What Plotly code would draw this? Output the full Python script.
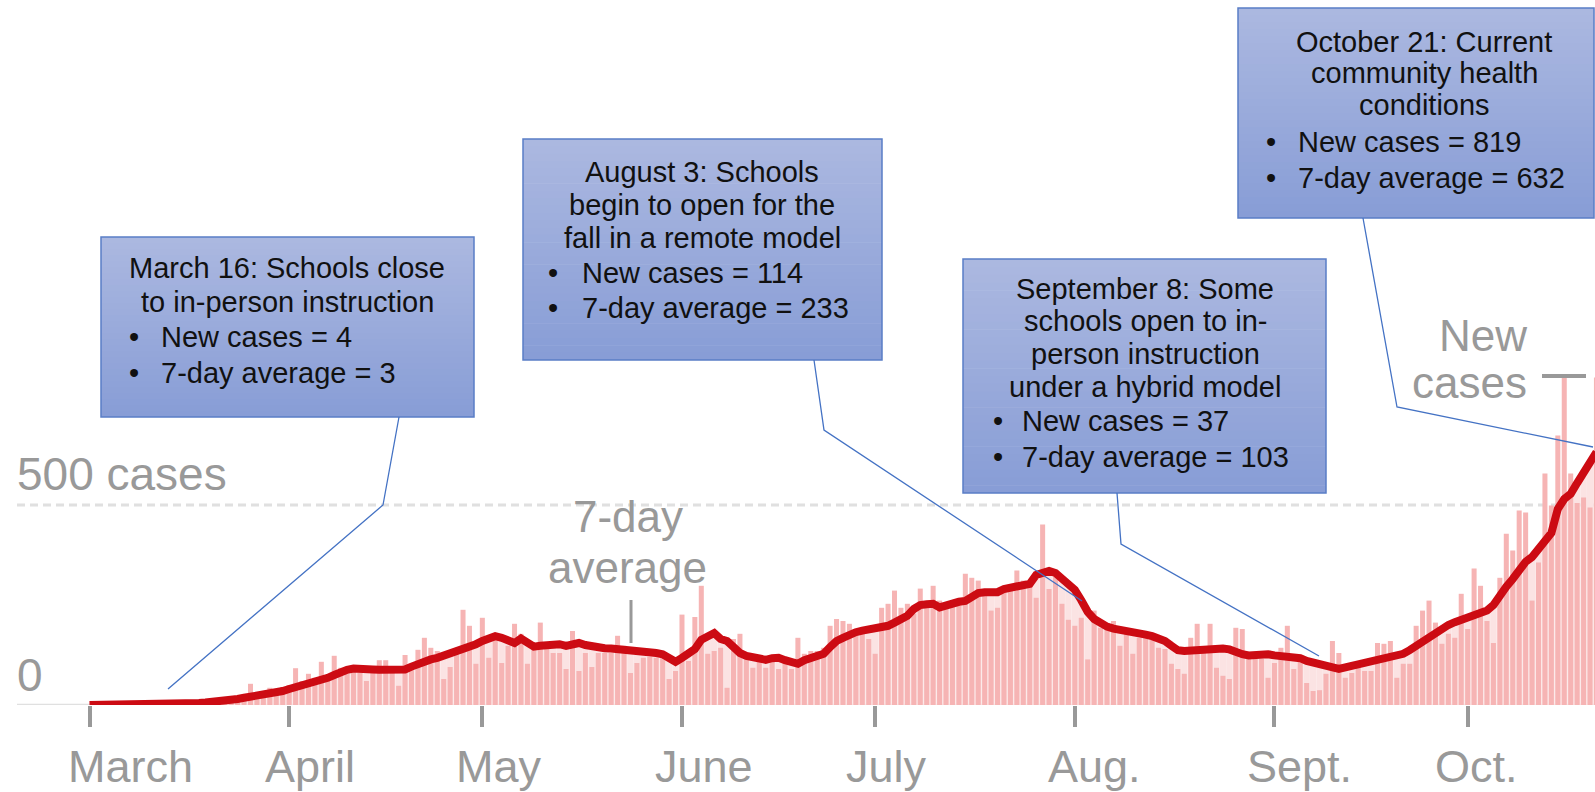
"""Daily new cases with school-reopening callouts (NYT style bars + 7-day line)."""
import pandas as pd
import plotly.graph_objects as go

W, H = 1595, 792
PLOT_H = 705          # pixel row of the zero line
PX_PER_DAY = 6.44
PX_PER_CASE = 0.40
FIRST_DAY_X = 89.5    # pixel column of March 1

BAR_COLOR = "#f6b4b4"
FILL_COLOR = "#fbe3e3"
LINE_COLOR = "#cc0b13"
GRAY = "#999999"
GRID = "#e0e0e0"
CALLOUT = "#4472c4"
BOX_TOP = (171, 184, 224)
BOX_BOTTOM = (136, 157, 214)
BOX_EDGE = "#5a7ec6"
FONT = "Liberation Sans, Arial, sans-serif"

START_DATE = "2020-03-01"

NEW_CASES = [
    0, 0, 0, 0, 0, 0, 0, 0, 0, 0,
    1, 0, 2, 1, 3, 4, 5, 4, 8, 10,
    12, 9, 15, 18, 22,
    53, 27, 30, 43, 35, 45, 50,
    92, 60, 78, 68, 108, 68, 123, 93, 78,
    93, 98, 60, 95, 112, 112, 95, 48, 125, 90,
    138, 168, 143, 135, 65, 95, 140,
    238, 198, 103, 218, 118, 165, 105, 148, 203,
    178, 103, 140, 206, 148, 130, 130, 90, 185, 85,
    130, 95, 130, 130, 130, 173, 148, 80, 105, 118, 120, 118, 123, 65, 85,
    226, 110, 220, 298, 128, 135, 143, 43, 165, 178,
    123, 93, 115, 93, 110, 90, 110, 90, 168, 128,
    135, 135, 143, 198, 215, 210, 203, 178, 178, 165,
    128, 243, 253, 286, 243, 253, 228, 291, 256, 298,
    261, 256, 248, 253, 328, 318, 311, 278, 236, 243,
    293, 298, 336, 311, 303, 268, 451,
    290, 328, 253, 213, 198, 218, 114,
    236, 193, 190, 210, 148, 185, 128, 168, 180, 168,
    143, 140, 103, 90, 78, 168, 203, 143, 203, 93,
    73, 65, 193, 190, 128, 115, 115, 68, 105, 143,
    198, 90, 118, 55, 35, 37, 78, 160, 130, 68,
    80, 93, 85, 85, 155, 153, 160, 68, 103, 103,
    198, 236, 261, 206, 153, 178, 168, 278, 190, 341,
    298, 210, 155, 318, 428, 386, 486, 481, 261, 356,
    579, 499, 674, 822, 579, 505, 519, 494, 819,
]

AVG_7DAY = [
    0, 0, 0, 0, 0, 0, 0, 0, 0, 0, 1, 1, 1, 2,
    2, 3, 4, 5, 6, 7, 9, 10, 12, 15, 18, 20, 24, 27, 29, 32, 35,
    40, 44, 48, 52, 58, 63, 68, 75, 84, 88,
    91, 92, 90, 89, 88, 88, 87, 88, 89, 96,
    103, 110, 114, 118, 123, 127, 133, 138, 143, 152,
    160, 167, 172, 168, 160, 155, 166, 158, 146, 148,
    151, 153, 152, 148, 151, 155, 150, 146, 143, 142,
    141, 140, 140, 138, 135, 134, 132, 130, 127, 118,
    108,
    118, 130, 140, 163, 172, 180, 165, 160, 145, 130,
    123, 118, 115, 113, 117, 118, 112, 106, 103, 112,
    118, 122, 128, 145, 160, 168, 176, 182, 186, 188,
    192, 196, 198, 206, 214, 223, 240, 250, 252, 253,
    244, 250, 255, 258, 260, 270, 280, 282, 281, 282,
    290, 292, 295, 298, 303, 325, 332, 335, 330, 318,
    300,
    288, 262, 233, 215, 203, 196, 191, 188, 188, 187,
    183, 176, 172, 168, 160, 148, 137, 135, 136, 140,
    142, 141, 140, 141, 139, 132, 127, 124, 125, 128,
    127,
    124, 122, 121, 120, 117, 110, 105, 103, 95, 91,
    90, 94, 98, 102, 107, 110, 112, 115, 118, 123,
    128, 137, 148, 160, 170, 181, 192, 200, 207, 212,
    220, 226, 230, 236, 250, 276, 296, 315, 340, 358,
    370, 394, 410, 430, 490, 515, 528, 555, 580, 610,
    632,
]

TICK_DATES = ["2020-03-01", "2020-04-01", "2020-05-01", "2020-06-01",
              "2020-07-01", "2020-08-01", "2020-09-01", "2020-10-01"]
TICK_LABELS = ["March", "April", "May", "June", "July", "Aug.", "Sept.", "Oct."]
# the month names sit a little right of their ticks in the original
TICK_LABEL_X = [130, 310, 499, 704, 886, 1094, 1299, 1476]

BOX_HEADINGS = [
    ["March 16: Schools close", "to in-person instruction"],
    ["August 3: Schools", "begin to open for the", "fall in a remote model"],
    ["September 8: Some", "schools open to in-", "person instruction", "under a hybrid model"],
    ["October 21: Current", "community health", "conditions"],
]
BOX_BULLETS = [
    ["New cases = 4", "7-day average = 3"],
    ["New cases = 114", "7-day average = 233"],
    ["New cases = 37", "7-day average = 103"],
    ["New cases = 819", "7-day average = 632"],
]

# callout box geometry, in pixels
BOX_RECTS = [(101, 237, 474, 417), (523, 139, 882, 360),
             (963, 259, 1326, 493), (1238, 8, 1594, 218)]
BOX_LINE_Y = [[268, 302, 337, 373], [172, 205, 238, 273, 308],
              [289, 321, 354, 387, 421, 457], [42, 73, 105, 142, 178]]
BOX_HEAD_X = [287, 702, 1145, 1424]
BOX_BULLET_X = [(134, 159), (553, 580), (998, 1020), (1271, 1296)]
CALLOUT_PATHS = [
    [(399, 417), (383, 505), (168, 689)],
    [(814, 360), (824, 430), (1082, 601)],
    [(1117, 493), (1121, 544), (1319, 656)],
    [(1363, 218), (1397, 407), (1593, 447)],
]


def px(x):
    return x / W


def py(y):
    return 1 - y / PLOT_H


dates = pd.date_range(START_DATE, periods=len(NEW_CASES), freq="D")
day_ms = 86400000

fig = go.Figure()
fig.add_trace(go.Bar(x=dates, y=AVG_7DAY, width=day_ms,
                     marker=dict(color=FILL_COLOR, line_width=0), hoverinfo="skip"))
fig.add_trace(go.Bar(x=dates, y=NEW_CASES, width=day_ms * 0.78,
                     marker=dict(color=BAR_COLOR, line_width=0), name="New cases"))
fig.add_trace(go.Scatter(x=dates, y=AVG_7DAY, mode="lines", name="7-day average",
                         line=dict(color=LINE_COLOR, width=8)))

x0 = pd.Timestamp(START_DATE) - pd.Timedelta(days=FIRST_DAY_X / PX_PER_DAY)
x1 = x0 + pd.Timedelta(days=W / PX_PER_DAY)

shapes = [
    dict(type="line", xref="paper", yref="y", x0=px(17), x1=1, y0=-2, y1=-2,
         line=dict(color=GRID, width=4), layer="below"),
    dict(type="line", xref="paper", yref="y", x0=px(17), x1=1, y0=500, y1=500,
         line=dict(color=GRID, width=3, dash="8px,5px"), layer="below"),
    dict(type="line", xref="paper", yref="paper", x0=px(631), x1=px(631),
         y0=py(600), y1=py(643), line=dict(color=GRAY, width=3)),
    dict(type="line", xref="paper", yref="paper", x0=px(1542), x1=px(1586),
         y0=py(376), y1=py(376), line=dict(color=GRAY, width=4)),
]

# gradient-filled callout boxes
n_strips = 30
for (bx0, by0, bx1, by1) in BOX_RECTS:
    step = (by1 - by0) / n_strips
    for i in range(n_strips):
        t = i / (n_strips - 1)
        rgb = [round(a + (b - a) * t) for a, b in zip(BOX_TOP, BOX_BOTTOM)]
        shapes.append(dict(
            type="rect", xref="paper", yref="paper",
            x0=px(bx0), x1=px(bx1),
            y0=py(by0 + i * step), y1=py(min(by1, by0 + (i + 1) * step + 0.6)),
            fillcolor=f"rgb({rgb[0]},{rgb[1]},{rgb[2]})", line_width=0,
        ))
    shapes.append(dict(type="rect", xref="paper", yref="paper",
                       x0=px(bx0), x1=px(bx1), y0=py(by0), y1=py(by1),
                       line=dict(color=BOX_EDGE, width=1.5)))

for pts in CALLOUT_PATHS:
    path = "M " + " L ".join(f"{px(x)},{py(y)}" for x, y in pts)
    shapes.append(dict(type="path", xref="paper", yref="paper", path=path,
                       line=dict(color=CALLOUT, width=1.3)))

annotations = []


def label(text, x, y, size=44, color=GRAY, anchor="center"):
    annotations.append(dict(
        text=text, xref="paper", yref="paper", x=px(x), y=py(y),
        xanchor=anchor, yanchor="middle", showarrow=False,
        font=dict(family=FONT, size=size, color=color),
    ))


label("500 cases", 15, 474, size=46, anchor="left")
label("0", 15, 675, size=46, anchor="left")
label("7-day", 628, 516)
label("average", 627, 567)
label("New", 1529, 335, anchor="right")
label("cases", 1529, 382, anchor="right")

for text, x in zip(TICK_LABELS, TICK_LABEL_X):
    label(text, x, 767, size=45)

for k in range(len(BOX_HEADINGS)):
    ys = BOX_LINE_Y[k]
    n_head = len(BOX_HEADINGS[k])
    for j, line in enumerate(BOX_HEADINGS[k]):
        label(line, BOX_HEAD_X[k], ys[j], size=29, color="#111111")
    dot_x, text_x = BOX_BULLET_X[k]
    for j, line in enumerate(BOX_BULLETS[k]):
        label("\u2022", dot_x, ys[n_head + j], size=29, color="#111111")
        label(line, text_x, ys[n_head + j], size=29, color="#111111", anchor="left")

fig.update_layout(
    width=W, height=H,
    margin=dict(l=0, r=0, t=0, b=H - PLOT_H, pad=0, autoexpand=False),
    paper_bgcolor="white", plot_bgcolor="white",
    barmode="overlay", showlegend=False,
    xaxis=dict(
        type="date", range=[x0, x1], automargin=False,
        tickvals=TICK_DATES, showticklabels=False,
        ticks="outside", ticklen=21, tickwidth=4, tickcolor=GRAY,
        showgrid=False, zeroline=False, showline=False,
    ),
    yaxis=dict(range=[0, PLOT_H / PX_PER_CASE], visible=False, automargin=False),
    shapes=shapes,
    annotations=annotations,
)

fig.write_html(
    "out.html",
    config={"displayModeBar": False},
    post_script="document.body.style.margin='0';document.body.style.overflow='hidden';",
)
